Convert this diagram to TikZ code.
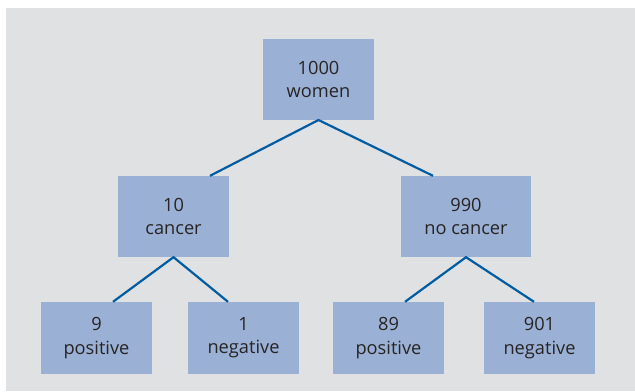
\documentclass[tikz,border=0pt]{standalone}
\usepackage{fontspec}
\setmainfont{Open Sans}
\definecolor{bggray}{HTML}{E0E1E3}
\definecolor{boxfill}{HTML}{9BB0D5}
\definecolor{linkblue}{HTML}{005DA4}
\definecolor{txt}{HTML}{262524}
\tikzset{
  box/.style={fill=boxfill, draw=none, inner sep=0pt, align=center, text=txt,
    font=\fontsize{18.3}{23.4}\selectfont, minimum width=111bp, minimum height=81bp},
  lowbox/.style={box, minimum height=72bp},
  link/.style={draw=linkblue, line width=2.2bp}
}
\begin{document}
\begin{tikzpicture}[x=1bp,y=-1bp]
\useasboundingbox (0,0) rectangle (635,391);
\fill[white] (0,0) rectangle (635,391);
\fill[bggray] (6,8) rectangle (635,391);
\node[box] (top) at (318.5,79.3) {1000\\women};
\node[box] (can) at (173.5,216.5) {10\\cancer};
\node[box, minimum width=130bp] (nocan) at (466,216.5) {990\\no cancer};
\node[lowbox] (p9) at (96.5,338) {9\\positive};
\node[lowbox] (n1) at (243.5,338) {1\\negative};
\node[lowbox] (p89) at (388.5,338) {89\\positive};
\node[lowbox] (n901) at (539.5,338) {901\\negative};
\draw[link] ([xshift=36.5bp]can.north) -- (top.south) -- ([xshift=-33bp]nocan.north);
\draw[link] ([xshift=16.5bp]p9.north) -- (can.south) -- ([xshift=-15.5bp]n1.north);
\draw[link] ([xshift=16.5bp]p89.north) -- (nocan.south) -- ([xshift=-5.5bp]n901.north);
\end{tikzpicture}
\end{document}
